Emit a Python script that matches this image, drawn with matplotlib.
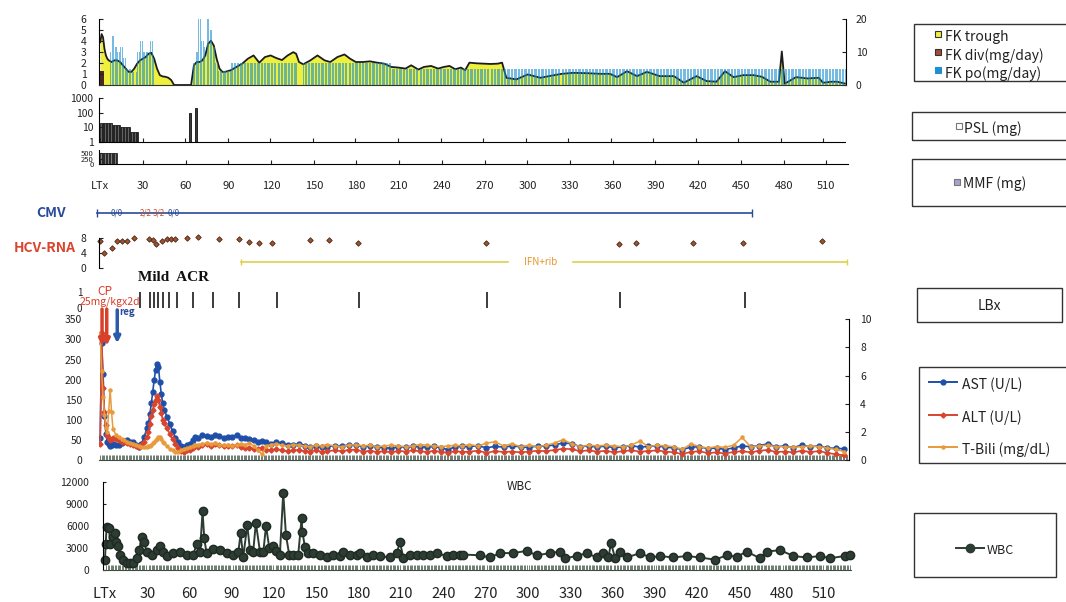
import numpy as np
import matplotlib
matplotlib.use("Agg")
import matplotlib.pyplot as plt
from matplotlib.patches import Rectangle
from matplotlib.lines import Line2D

plt.rcParams['font.family'] = ['Noto Sans CJK JP', 'DejaVu Sans']

W, H = 1066, 602

# ---------------- data ----------------
day_ticks = list(range(0, 511, 30))
day_labels = ['LTx'] + [str(d) for d in day_ticks[1:]]

# FK trough (ng/mL, right axis)
fk_trough_days = [0, 1, 2, 3, 4, 5, 6, 8, 10, 12,
                  14, 16, 18, 20, 22, 24, 26, 28, 30, 32,
                  34, 36, 38, 40, 42, 44, 46, 48, 50, 52,
                  64, 66, 68, 70, 72, 74, 76, 78, 80, 82,
                  84, 86, 88, 92, 96, 100, 104, 108, 112, 116,
                  120, 124, 128, 132, 136, 138, 140, 143, 148, 153,
                  158, 162, 167, 172, 176, 180, 185, 190, 195, 200,
                  205, 210, 215, 219, 224, 228, 233, 238, 242, 246,
                  250, 254, 257, 260, 265, 270, 275, 280, 283, 286,
                  293, 301, 310, 316, 325, 333, 343, 352, 359, 364,
                  371, 378, 385, 394, 404, 411, 420, 427, 434, 440,
                  446, 453, 460, 466, 472, 478, 480, 482, 490, 498,
                  506, 509, 515, 519, 525]
fk_trough = [13, 15.5, 14.5, 11, 9, 8, 7.5, 7, 7.5, 7.5,
             7, 6, 5, 4, 4, 5, 6.5, 7.5, 8, 8.5,
             9.5, 9.8, 8, 5, 3, 2.6, 2.5, 2.2, 1.5, 0,
             0, 6, 7, 7, 7.5, 9, 12.5, 13.5, 12, 8,
             5, 4, 4, 4.5, 5.5, 6.5, 8, 9, 6.8, 8.5,
             9, 8.2, 7.6, 9, 10, 9.5, 7, 6.3, 7.5, 9,
             7.5, 7, 8.5, 9.3, 8, 7, 7, 7.2, 6.8, 6.5,
             5.5, 5.3, 5, 6, 4.7, 5.5, 5.8, 5, 5.5, 5.8,
             4.8, 5.3, 4.5, 6.8, 6.6, 6.5, 6.4, 6.5, 6.8, 2.2,
             1.7, 3.2, 2.2, 2.7, 3.4, 3.7, 3.6, 3.4, 3.4, 2.4,
             4.2, 2.7, 4.0, 2.7, 2.7, 0.7, 2.7, 1.2, 1.0, 4.2,
             2.4, 3.0, 3.0, 2.5, 1.0, 1.0, 10.2, 0.4, 2.4, 2.0,
             2.2, 0.7, 1.0, 1.0, 0.4]

# dosing regimens (start day, end day, dose)
fk_po_segments = [(7, 8, 3.0), (8, 10, 4.5), (10, 12, 3.5), (12, 14, 3.0),
                  (14, 16, 3.5), (16, 18, 2.5), (18, 22, 1.5), (22, 26, 1.2),
                  (26, 28, 3.0), (28, 30, 4.0), (30, 35, 3.0), (35, 37, 4.0),
                  (37, 38, 2.5), (65, 67, 2.0), (67, 69, 3.0), (69, 71, 6.0),
                  (71, 73, 4.0), (73, 75, 3.5), (75, 77, 6.0), (77, 79, 5.0),
                  (79, 81, 3.5), (81, 83, 2.0), (83, 92, 1.3), (92, 139, 2.0),
                  (143, 205, 2.0), (205, 526, 1.5)]
fk_div_segments = [(0, 3, 1.3)]
psl_segments = [(0, 8, 20), (8, 14, 15), (14, 21, 10), (21, 27, 5)]
psl_pulse_days = [63.5, 67.5]
psl_pulse = [100, 200]
mmf_segments = [(0, 12, 500)]

# CMV antigenemia
cmv_start, cmv_end = -2.3, 459
cmv_result_days = [11.6, 32.3, 41.5, 51.7]
cmv_results = ['0/0', '2/2', '3/2', '0/0']

# HCV-RNA (log copies)
hcv_days = [0, 3, 8, 12, 15, 19, 23.5, 34.5, 37, 39, 43.7, 47.3, 50, 53, 61.3,
            68.8, 83.8, 97.7, 104.5, 111.5, 121, 148, 161, 181.5, 272, 365.5,
            377.5, 417.5, 453, 508]
hcv_rna = [7.1, 3.9, 5.2, 7.1, 7.1, 7.1, 8.0, 7.6, 7.4, 6.3, 7.1, 7.7, 7.7, 7.7,
           8.0, 8.2, 7.6, 7.6, 6.9, 6.7, 6.5, 7.4, 7.4, 6.7, 6.5, 6.3, 6.5, 6.7,
           6.7, 7.1]
ifn_start, ifn_end, ifn_label_day = 99, 526, 310

# liver biopsies
lbx_days = [28, 35, 38, 41, 44.5, 48.5, 54, 65.5, 79.5, 98, 124.5, 182, 272.5, 366, 454]
cp_days = [1.3, 4.6]
reg_day = 12

# liver function tests
lab_days = [0, 1, 2, 3, 4, 5, 6, 7, 8, 9,
            11, 13, 15, 17, 19, 21, 23, 25, 27, 29, 31, 33,
            34, 35, 36, 37, 38, 39, 40, 41, 42, 43, 44, 45,
            47, 49, 51, 53, 55, 57, 59, 61, 63, 65, 67, 69,
            72, 75, 78, 81, 84, 87, 90, 93, 96, 99, 102, 105,
            108, 111, 114, 117, 120, 124, 128, 132, 136, 140, 144, 148,
            152, 156, 160, 165, 170, 175, 180, 185, 190, 195, 200, 205,
            210, 215, 220, 225, 230, 235, 240, 245, 250, 255, 260, 266,
            272, 278, 284, 290, 296, 302, 308, 314, 320, 326, 332, 338,
            344, 350, 356, 362, 368, 374, 380, 386, 392, 398, 404, 410,
            416, 422, 428, 434, 440, 446, 452, 458, 464, 470, 476, 482,
            488, 494, 500, 506, 512, 518, 524]
ast = [55, 290, 215, 110, 65, 45, 40, 35, 38, 40,
       38, 37, 42, 48, 50, 46, 44, 38, 33, 40, 58, 80,
       91, 115, 141, 170, 199, 225, 240, 232, 195, 165, 141, 125,
       108, 90, 72, 55, 45, 35, 33, 38, 41, 50, 58, 55,
       62, 60, 56, 62, 60, 55, 58, 57, 62, 55, 54, 52,
       50, 46, 48, 44, 41, 45, 42, 38, 37, 40, 36, 33,
       35, 32, 33, 36, 35, 37, 38, 33, 35, 33, 31, 29,
       33, 32, 34, 33, 32, 34, 30, 26, 33, 34, 33, 36,
       30, 34, 32, 35, 33, 31, 35, 34, 38, 42, 41, 33,
       35, 32, 35, 30, 33, 36, 32, 34, 35, 32, 30, 26,
       32, 33, 28, 30, 26, 30, 35, 33, 36, 40, 33, 35,
       31, 37, 33, 35, 30, 29, 28]
alt = [40, 315, 180, 120, 88, 62, 55, 50, 52, 55,
       52, 50, 46, 45, 43, 40, 38, 35, 33, 37, 45, 58,
       70, 90, 110, 125, 140, 150, 158, 150, 132, 118, 100, 92,
       80, 65, 52, 40, 30, 22, 20, 24, 26, 30, 35, 33,
       38, 40, 36, 40, 38, 35, 36, 34, 38, 32, 30, 31,
       28, 27, 30, 26, 25, 27, 24, 22, 24, 25, 22, 21,
       24, 20, 22, 24, 22, 25, 26, 21, 23, 20, 22, 19,
       23, 21, 24, 22, 20, 23, 20, 18, 22, 20, 21, 23,
       18, 22, 20, 21, 19, 21, 23, 22, 25, 28, 27, 22,
       24, 21, 23, 19, 22, 24, 21, 22, 24, 21, 19, 15,
       20, 22, 17, 19, 16, 20, 22, 19, 23, 25, 20, 21,
       19, 23, 20, 22, 18, 14, 12]
t_bili = [9.0, 6.3, 4.5, 3.2, 2.3, 2.0, 3.5, 5.0, 3.4, 2.2,
          1.8, 1.6, 1.5, 1.4, 1.3, 1.2, 1.15, 1.1, 1.0, 0.95, 0.9, 0.95,
          1.0, 1.0, 1.05, 1.2, 1.3, 1.4, 1.5, 1.6, 1.65, 1.5, 1.3, 1.2,
          1.0, 0.8, 0.7, 0.6, 0.6, 0.7, 0.8, 0.85, 0.9, 1.0, 1.05, 1.1,
          1.15, 1.2, 1.15, 1.2, 1.1, 1.05, 1.1, 1.0, 1.1, 1.15, 1.1, 1.2,
          1.0, 0.7, 0.4, 1.0, 1.1, 1.15, 1.05, 1.0, 1.1, 1.05, 1.0, 0.95,
          1.05, 1.0, 1.1, 1.0, 0.95, 1.05, 1.1, 1.0, 1.05, 0.95, 1.0, 1.05,
          1.0, 0.95, 1.0, 1.1, 1.05, 1.0, 0.95, 1.0, 1.05, 1.0, 1.1, 1.0,
          1.2, 1.3, 1.0, 1.15, 0.95, 1.05, 0.95, 1.05, 1.2, 1.45, 1.15, 0.95,
          1.05, 1.0, 1.05, 1.0, 0.95, 1.05, 1.35, 0.95, 1.05, 1.0, 0.95, 0.75,
          1.15, 0.95, 0.85, 0.95, 0.9, 1.05, 1.6, 0.95, 1.0, 1.05, 0.95, 0.95,
          0.9, 0.95, 1.0, 0.95, 0.85, 0.75, 0.6]

# white blood cells
wbc_days = [0, 0.5, 1.2, 3, 3.5, 6, 7, 8, 9.3, 10.6, 13, 15.4, 17.7, 20, 22.5,
            24.3, 26, 27.7, 29.6, 33.1, 36.6, 39, 41.4, 43.7, 48.5, 53.2, 57.9,
            62.6, 65, 67.4, 69.2, 70.4, 72, 76.8, 81.6, 86.3, 91, 94.6, 96.2, 98,
            100.9, 102.8, 105.1, 107, 109.9, 112.3, 114.2, 116.5, 119.3, 121.6,
            124, 126.4, 128.3, 130.7, 133.5, 137, 139.4, 140, 141.8, 144.2, 147.7,
            152.5, 157.2, 162, 166.7, 169, 173.8, 178.5, 180.9, 185.6, 190.4, 195,
            202.1, 206.9, 209.2, 211.6, 216.3, 221, 225.8, 230.5, 235.2, 242.3,
            247, 251.7, 254.1, 265.9, 273, 280, 289.6, 299, 306.1, 315.6, 322.7,
            326.2, 334.5, 341.6, 348.7, 353.4, 357, 358.8, 361.7, 365.2, 370,
            379.4, 386.5, 393.6, 403, 412.5, 422, 432.6, 440.9, 448, 455, 464.5,
            469.2, 478.7, 488.2, 497.6, 507, 514, 524.6, 528]
wbc = [1400, 3600, 5900, 5700, 3600, 4500, 5000, 3800, 3200, 2000, 1400, 1000,
       900, 1000, 1600, 2700, 4500, 3800, 2500, 2000, 2700, 3200, 2500, 1900,
       2300, 2400, 2000, 2000, 3600, 2500, 8000, 4300, 2300, 2800, 2700, 2300,
       2000, 2500, 5000, 1700, 6100, 2700, 2500, 6400, 2500, 2500, 6000, 3000,
       3300, 2600, 2000, 10500, 4800, 2000, 2000, 2000, 7000, 5200, 3100, 2300,
       2300, 2000, 1700, 2000, 1900, 2500, 2000, 2000, 2300, 1700, 2000, 1900,
       1700, 2300, 3800, 1600, 2000, 2100, 2000, 2000, 2300, 1900, 2100, 2000,
       2100, 2000, 1700, 2300, 2300, 2600, 2000, 2300, 2500, 1600, 1900, 2300,
       1700, 2300, 1700, 3700, 1600, 2500, 1700, 2300, 1700, 1900, 1700, 1900,
       1700, 1400, 2000, 1800, 2500, 1600, 2500, 2700, 1900, 1700, 1900, 1600,
       1900, 2100]


def expand(segments):
    days, vals = [], []
    for start, end, v in segments:
        for d in range(start, end):
            days.append(d + 0.5)
            vals.append(v)
    return np.array(days), np.array(vals)


fig = plt.figure(figsize=(W / 100, H / 100), dpi=100)


def add_px_axes(x0, y0, x1, y1):
    return fig.add_axes([x0 / W, 1 - y1 / H, (x1 - x0) / W, (y1 - y0) / H])


XLIM = (-0.85, 525.2)
TXT = '#222222'

# ---------------- FK panel ----------------
ax_fk = add_px_axes(99, 19.3, 846, 85)
ax_tr = ax_fk.twinx()
ax_fk.set_zorder(ax_tr.get_zorder() + 1)
ax_fk.patch.set_visible(False)

ax_tr.fill_between(fk_trough_days, fk_trough, color='#eef03c', lw=0)
ax_tr.plot(fk_trough_days, fk_trough, color='#1c1c1c', lw=1.3)
po_d, po_v = expand(fk_po_segments)
ax_fk.bar(po_d, po_v, width=0.7, color='#1a8fd0', alpha=0.6, lw=0)
div_d, div_v = expand(fk_div_segments)
ax_fk.bar(div_d, div_v, width=0.9, color='#4a2a20', lw=0)

ax_fk.set_xlim(*XLIM)
ax_fk.set_ylim(0, 6)
ax_tr.set_ylim(0, 20)
ax_fk.set_yticks(range(7))
ax_tr.set_yticks([0, 10, 20])
ax_fk.set_xticks([])
for s in ['top', 'right']:
    ax_fk.spines[s].set_visible(False)
for s in ['top', 'left', 'bottom']:
    ax_tr.spines[s].set_visible(False)
ax_fk.spines['bottom'].set_color('#333333')
ax_fk.tick_params(axis='y', direction='in', length=3, labelsize=7.5, pad=9, colors=TXT)
ax_tr.tick_params(axis='y', direction='in', length=3, labelsize=7.5, pad=7, colors=TXT)

# ---------------- PSL panel ----------------
ax_psl = add_px_axes(99, 98.3, 845, 141.7)
ax_psl.set_yscale('log')
psl_d, psl_v = expand(psl_segments)
ax_psl.bar(psl_d, psl_v - 1, bottom=1, width=1.0, color='#626262', edgecolor='#1e1e1e', lw=0.6)
ax_psl.bar(psl_pulse_days, np.array(psl_pulse) - 1, bottom=1, width=1.3,
           color='#3a3a3a', edgecolor='#111111', lw=0.6)
ax_psl.set_xlim(*XLIM)
ax_psl.set_ylim(1, 1000)
ax_psl.set_yticks([1, 10, 100, 1000])
ax_psl.set_yticklabels(['1', '10', '100', '1000'])
ax_psl.minorticks_off()
ax_psl.set_xticks(day_ticks)
ax_psl.set_xticklabels([])
for s in ['top', 'right']:
    ax_psl.spines[s].set_visible(False)
ax_psl.tick_params(axis='both', direction='in', length=3, labelsize=7.5, pad=4, colors=TXT)

# ---------------- MMF panel ----------------
ax_mmf = add_px_axes(99, 150, 848, 164.3)
mmf_d, mmf_v = expand(mmf_segments)
ax_mmf.bar(mmf_d, mmf_v, width=1.0, color='#7a7a7a', edgecolor='#222222', lw=0.6)
ax_mmf.set_xlim(*XLIM)
ax_mmf.set_ylim(0, 640)
ax_mmf.set_yticks([0, 250, 500])
ax_mmf.set_xticks(day_ticks)
ax_mmf.set_xticklabels(day_labels)
for s in ['top', 'right']:
    ax_mmf.spines[s].set_visible(False)
ax_mmf.tick_params(axis='y', direction='in', length=2, labelsize=5.5, pad=4, colors=TXT)
ax_mmf.tick_params(axis='x', direction='in', length=3, labelsize=8, pad=12, colors=TXT)

# ---------------- CMV row ----------------
ax_cmv = add_px_axes(99, 205, 846, 221)
ax_cmv.set_xlim(*XLIM)
ax_cmv.set_ylim(0, 1)
ax_cmv.axis('off')
ax_cmv.plot([cmv_start, cmv_end], [0.5, 0.5], color='#2a4a9a', lw=1.2, clip_on=False)
ax_cmv.plot([cmv_start, cmv_end], [0.5, 0.5], ls='none', marker='|', ms=6,
            color='#2a4a9a', clip_on=False)
for d, r in zip(cmv_result_days, cmv_results):
    c = '#2a4a9a' if r.startswith('0') else '#c8502a'
    ax_cmv.text(d, 0.5, r, color=c, fontsize=5.8, ha='center', va='center')
fig.text(51 / W, 1 - 213 / H, 'CMV', color='#2a4a9a', fontsize=10,
         fontweight='bold', ha='center', va='center')

# ---------------- HCV-RNA row ----------------
ax_hcv = add_px_axes(99, 237.7, 846, 268.3)
ax_hcv.plot(hcv_days, hcv_rna, ls='none', marker='D', ms=2.8,
            mfc='#a0522d', mec='#4a2a1a', mew=0.6, clip_on=False)
ax_hcv.plot([ifn_start, ifn_label_day - 23], [1.7, 1.7], color='#ddd04a', lw=1.2, clip_on=False)
ax_hcv.plot([ifn_label_day + 23, ifn_end], [1.7, 1.7], color='#ddd04a', lw=1.2, clip_on=False)
ax_hcv.plot([ifn_start, ifn_end], [1.7, 1.7], ls='none', marker='|', ms=5,
            color='#ddd04a', clip_on=False)
ax_hcv.text(ifn_label_day, 1.7, 'IFN+rib', color='#e8962a', fontsize=7,
            ha='center', va='center')
ax_hcv.set_xlim(*XLIM)
ax_hcv.set_ylim(0, 8)
ax_hcv.set_yticks([0, 4, 8])
ax_hcv.set_xticks([])
for s in ['top', 'right', 'bottom']:
    ax_hcv.spines[s].set_visible(False)
ax_hcv.tick_params(axis='y', direction='in', length=3, labelsize=7.5, pad=9, colors=TXT)
fig.text(45 / W, 1 - 248 / H, 'HCV-RNA', color='#d9452f', fontsize=10,
         fontweight='bold', ha='center', va='center')

# ---------------- liver tests ----------------
ax_lab = add_px_axes(99, 319.3, 849, 460)
ax_bili = ax_lab.twinx()
ax_lab.plot(lab_days, ast, color='#1f4fa8', marker='o', ms=3.5, lw=1.2)
ax_lab.plot(lab_days, alt, color='#d8452f', marker='D', ms=2.6, lw=1.2)
ax_bili.plot(lab_days, t_bili, color='#e89a3c', marker='o', ms=2.2, lw=1.1)
ax_lab.set_xlim(-0.85, 527.3)
ax_lab.set_ylim(0, 350)
ax_bili.set_ylim(0, 10)
ax_lab.set_yticks(range(0, 351, 50))
ax_bili.set_yticks(range(0, 11, 2))
ax_lab.set_xticks([])
ax_lab.set_xticks(np.arange(0, 527, 1), minor=True)
for s in ['top', 'left', 'right']:
    ax_lab.spines[s].set_visible(False)
for s in ['top', 'left', 'bottom']:
    ax_bili.spines[s].set_visible(False)
ax_lab.spines['bottom'].set_color('#3d4d42')
ax_lab.tick_params(axis='y', length=0, labelsize=7.5, pad=12, colors=TXT)
ax_lab.tick_params(axis='x', which='minor', direction='in', length=3.5, width=0.6, color='#56665a')
ax_bili.tick_params(axis='y', direction='in', length=3, labelsize=7.5, pad=8, colors=TXT)

# ---------------- LBx row (drawn above the lab panel so arrows show) ----------------
ax_lbx = add_px_axes(99, 291.7, 846, 308.3)
ax_lbx.set_zorder(10)
ax_lbx.patch.set_visible(False)
ax_lbx.vlines(lbx_days, 0, 1, color='#1a1a1a', lw=1.2)
ax_lbx.set_xlim(*XLIM)
ax_lbx.set_ylim(0, 1)
ax_lbx.set_yticks([0, 1])
ax_lbx.set_xticks([])
for s in ax_lbx.spines.values():
    s.set_visible(False)
ax_lbx.tick_params(axis='y', length=0, labelsize=7, pad=12, colors=TXT)
ax_lbx.text(52, 1.83, 'Mild  ACR', fontsize=11, fontweight='bold',
            family='Liberation Serif', ha='center', va='center', color='#111111')
ax_lbx.text(3.5, 1.0, 'CP', color='#d9402a', fontsize=8.5, ha='center', va='center')
ax_lbx.text(6.5, 0.38, '25mg/kgx2d', color='#d9402a', fontsize=7.5, ha='center', va='center')
ax_lbx.text(19, -0.22, 'reg', color='#2a4a9a', fontsize=7, fontweight='bold',
            ha='center', va='center')
for d in cp_days:
    ax_lbx.annotate('', xy=(d, -2.25), xytext=(d, -0.05), annotation_clip=False,
                    arrowprops=dict(arrowstyle='-|>', color='#d9402a', lw=2.5,
                                    mutation_scale=9, shrinkA=0, shrinkB=0))
ax_lbx.annotate('', xy=(reg_day, -2.1), xytext=(reg_day, -0.1), annotation_clip=False,
                arrowprops=dict(arrowstyle='-|>', color='#2a5aa8', lw=2.5,
                                mutation_scale=9, shrinkA=0, shrinkB=0))

# ---------------- WBC ----------------
ax_wbc = add_px_axes(103, 481.7, 851, 570)
ax_wbc.plot(wbc_days, wbc, color='#2d3d33', marker='o', ms=6, lw=1.4,
            mec='#1e2a22', clip_on=False)
ax_wbc.set_xlim(-1.4, 529)
ax_wbc.set_ylim(0, 12000)
ax_wbc.set_yticks(range(0, 12001, 3000))
ax_wbc.set_xticks(day_ticks)
ax_wbc.set_xticklabels(day_labels)
ax_wbc.set_xticks(np.arange(0, 529, 1), minor=True)
for s in ['top', 'right']:
    ax_wbc.spines[s].set_visible(False)
ax_wbc.spines['bottom'].set_color('#3d4d42')
ax_wbc.tick_params(axis='y', direction='in', length=2, labelsize=7.5, pad=10, colors=TXT)
ax_wbc.tick_params(axis='x', which='major', length=0, labelsize=10.5, pad=12, colors=TXT)
ax_wbc.tick_params(axis='x', which='minor', direction='in', length=3.5, width=0.6, color='#56665a')
ax_wbc.text(0.557, 0.94, 'WBC', transform=ax_wbc.transAxes, fontsize=8.5,
            ha='center', va='center', color=TXT)


# ---------------- legend boxes ----------------
def fx(x):
    return x / W


def fy(y):
    return 1 - y / H


def box(x0, y0, x1, y1):
    fig.patches.append(Rectangle((fx(x0), fy(y1)), (x1 - x0) / W, (y1 - y0) / H,
                                 transform=fig.transFigure, fill=False,
                                 edgecolor='#333333', lw=1))


def square(x, y, fc, ec):
    fig.add_artist(Line2D([fx(x)], [fy(y)], marker='s', ms=5, mfc=fc, mec=ec,
                          mew=0.8, ls='none', transform=fig.transFigure))


def line_entry(x0, x1, y, color, marker, ms):
    fig.add_artist(Line2D([fx(x0), fx(x1)], [fy(y), fy(y)], color=color, lw=1.4,
                          transform=fig.transFigure))
    fig.add_artist(Line2D([fx((x0 + x1) / 2)], [fy(y)], marker=marker, ms=ms,
                          color=color, ls='none', transform=fig.transFigure))


box(914, 24, 1070, 81)
square(938, 34, '#eef03c', '#333333')
fig.text(fx(945), fy(36.5), 'FK trough', fontsize=10, va='center', color=TXT)
square(938, 52, '#a84a35', '#333333')
fig.text(fx(945), fy(55.5), 'FK div(mg/day)', fontsize=10, va='center', color=TXT)
square(938, 70, '#1f8fd0', '#1f8fd0')
fig.text(fx(945), fy(73.5), 'FK po(mg/day)', fontsize=10, va='center', color=TXT)

box(912, 112, 1070, 140)
square(959, 126, '#ffffff', '#777777')
fig.text(fx(964), fy(128.5), 'PSL (mg)', fontsize=10, va='center', color=TXT)

box(912, 159, 1070, 206)
square(957, 181.5, '#a9a3c9', '#777777')
fig.text(fx(963), fy(183.5), 'MMF (mg)', fontsize=10, va='center', color=TXT)

box(917, 288, 1062, 322)
fig.text(fx(989), fy(306), 'LBx', fontsize=10, ha='center', va='center', color=TXT)

box(919, 367, 1070, 463)
line_entry(929, 957, 382, '#1f4fa8', 'o', 3.5)
fig.text(fx(962), fy(385), 'AST (U/L)', fontsize=10, va='center', color=TXT)
line_entry(929, 957, 415, '#d8452f', 'D', 2.6)
fig.text(fx(962), fy(418), 'ALT (U/L)', fontsize=10, va='center', color=TXT)
line_entry(929, 957, 447, '#e89a3c', 'o', 2.2)
fig.text(fx(962), fy(450), 'T-Bili (mg/dL)', fontsize=10, va='center', color=TXT)

box(914, 513, 1056, 577)
line_entry(956, 984, 548, '#2d3d33', 'o', 6)
fig.text(fx(987), fy(551), 'WBC', fontsize=9, va='center', color=TXT)

fig.savefig('out.png', dpi=100)
